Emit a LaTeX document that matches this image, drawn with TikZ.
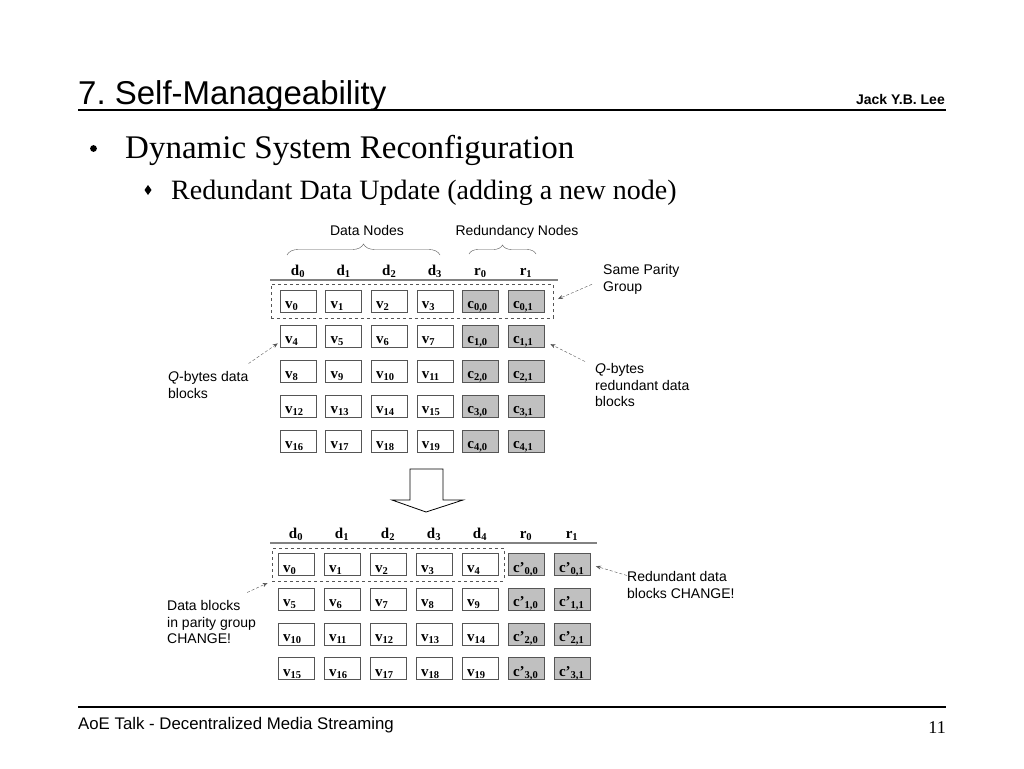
\documentclass[tikz,border=0pt]{standalone}
\usepackage{fontspec}
\setmainfont{Liberation Serif}
\setsansfont{Liberation Sans}
\usetikzlibrary{arrows.meta,positioning,fit,decorations.pathreplacing}
\definecolor{blockGray}{RGB}{192,192,192}
\definecolor{edgeGray}{RGB}{85,85,85}
\definecolor{ruleGray}{RGB}{130,130,130}

\begin{document}
\begin{tikzpicture}[x=1pt, y=-1pt,
  blk/.style={draw=edgeGray, fill=white, minimum width=36pt, minimum height=22pt,
              text width=26pt, inner xsep=5pt, align=left, text height=15pt, text depth=0pt,
              font=\fontsize{15}{17}\selectfont\bfseries},
  pblk/.style={blk, fill=blockGray},
  hdr/.style={font=\fontsize{15}{17}\selectfont\bfseries, inner sep=0pt},
  note/.style={font=\sffamily\fontsize{14}{16.5}\selectfont, align=left, inner sep=0pt},
  callout/.style={-{Stealth[length=5pt,width=4pt]}, densely dashed, edgeGray},
  grp/.style={draw=edgeGray, dashed, fill=none}
]
  \path[fill=white] (0,0) rectangle (1024,768);
  \useasboundingbox (0,0) rectangle (1024,768);

  % slide heading
  \node[anchor=base west, font=\sffamily\fontsize{33}{36}\selectfont, inner sep=0pt] (title) at (78,104) {7.\ Self-Manageability};
  \node[anchor=base east, font=\sffamily\bfseries\fontsize{14}{16}\selectfont, inner sep=0pt] (author) at (945,104) {Jack Y.B. Lee};
  \draw[line width=2pt] (78,110) -- (946,110);

  \fill (93.5,148.5) circle (3.4pt);
  \node[anchor=base west, font=\fontsize{33}{36}\selectfont, inner sep=0pt] (lvlone) at (125,158) {Dynamic System Reconfiguration};
  \fill (148,185) -- (151.5,190) -- (148,195) -- (144.5,190) -- cycle;
  \node[anchor=base west, font=\fontsize{28}{30}\selectfont, inner sep=0pt] (lvltwo) at (171,199) {Redundant Data Update (adding a new node)};

  % before: 4 data nodes + 2 redundancy nodes
  \node[note, anchor=base] (dn) at (367,235) {Data Nodes};
  \node[note, anchor=base] (rn) at (517,235) {Redundancy Nodes};
  \draw[decorate, decoration={brace, amplitude=11pt}, edgeGray] (287,255) -- (440,255);
  \draw[decorate, decoration={brace, amplitude=9pt}, edgeGray] (469,254) -- (536,254);

  \foreach \l/\s [count=\c from 0] in {d/0,d/1,d/2,d/3,r/0,r/1}
    \node[hdr, anchor=base] (hu\c) at (298+45.6*\c,275) {\l\textsubscript{\s}};
  \draw[ruleGray, line width=1.3pt] (270,280) -- (558,280);

  \foreach \r in {0,...,4} {
    \foreach \c in {0,...,5} {
      \pgfmathsetmacro{\colx}{298+45.6*\c}
      \pgfmathsetmacro{\rowy}{301+35*\r}
      \ifnum\c<4
        \pgfmathtruncatemacro{\k}{4*\r+\c}
        \node[blk] (u\r\c) at (\colx,\rowy) {v\textsubscript{\k}};
      \else
        \pgfmathtruncatemacro{\k}{\c-4}
        \node[pblk] (u\r\c) at (\colx,\rowy) {c\textsubscript{\r,\k}};
      \fi
    }
  }
  \node[grp, fit=(u00)(u05), inner xsep=9pt, inner ysep=5.5pt] (grpA) {};

  \node[note, anchor=north west] (spg) at (603,264.5) {Same Parity\\Group};
  \node[note, anchor=north west] (qd) at (168,371.5) {\textit{Q}-bytes data\\blocks};
  \node[note, anchor=north west] (qr) at (595,363.5) {\textit{Q}-bytes\\redundant data\\blocks};
  \draw[callout, shorten <=12pt, shorten >=5pt] (spg.west) -- (grpA.east);
  \draw[callout, shorten >=2.5pt] ([yshift=8pt]qd.north east) -- ([yshift=-6pt]u10.west);
  \draw[callout, shorten >=7pt] ([xshift=-10pt,yshift=2pt]qr.north west) -- ([yshift=-5pt]u15.east);

  % update step
  \draw[fill=white, line width=0.8pt] (410,469) -- (443,469) -- (443,500) -- (463,500)
    -- (426,512) -- (392,500) -- (410,500) -- cycle;

  % after: 5 data nodes + 2 redundancy nodes
  \foreach \l/\s [count=\c from 0] in {d/0,d/1,d/2,d/3,d/4,r/0,r/1}
    \node[hdr, anchor=base] (hw\c) at (296+46*\c,538) {\l\textsubscript{\s}};
  \draw[ruleGray, line width=1.3pt] (270,543) -- (597,543);

  \foreach \r in {0,...,3} {
    \foreach \c in {0,...,6} {
      \pgfmathsetmacro{\colx}{296+46*\c}
      \pgfmathsetmacro{\rowy}{564.5+34.7*\r}
      \ifnum\c<5
        \pgfmathtruncatemacro{\k}{5*\r+\c}
        \node[blk] (w\r\c) at (\colx,\rowy) {v\textsubscript{\k}};
      \else
        \pgfmathtruncatemacro{\k}{\c-5}
        \node[pblk] (w\r\c) at (\colx,\rowy) {c’\textsubscript{\r,\k}};
      \fi
    }
  }
  \node[grp, fit=(w00)(w04), inner xsep=5.5pt, inner ysep=5pt] (grpB) {};

  \node[note, anchor=north west] (dc) at (167,600.5) {Data blocks\\in parity group\\CHANGE!};
  \node[note, anchor=north west] (rc) at (627,571.5) {Redundant data\\blocks CHANGE!};
  \draw[callout, shorten >=5pt] ([xshift=-9pt,yshift=8pt]dc.north east) -- (grpB.south west);
  \draw[callout, shorten >=6pt] ([yshift=-4pt]rc.north west) -- (w06.east);

  % footer
  \draw[line width=2.5pt] (78,707) -- (946,707);
  \node[anchor=base west, font=\sffamily\fontsize{16.8}{18}\selectfont, inner sep=0pt] (foot) at (78,729) {AoE Talk - Decentralized Media Streaming};
  \node[anchor=base east, font=\fontsize{18}{20}\selectfont, inner sep=0pt] (pg) at (946,733) {11};
\end{tikzpicture}
\end{document}
